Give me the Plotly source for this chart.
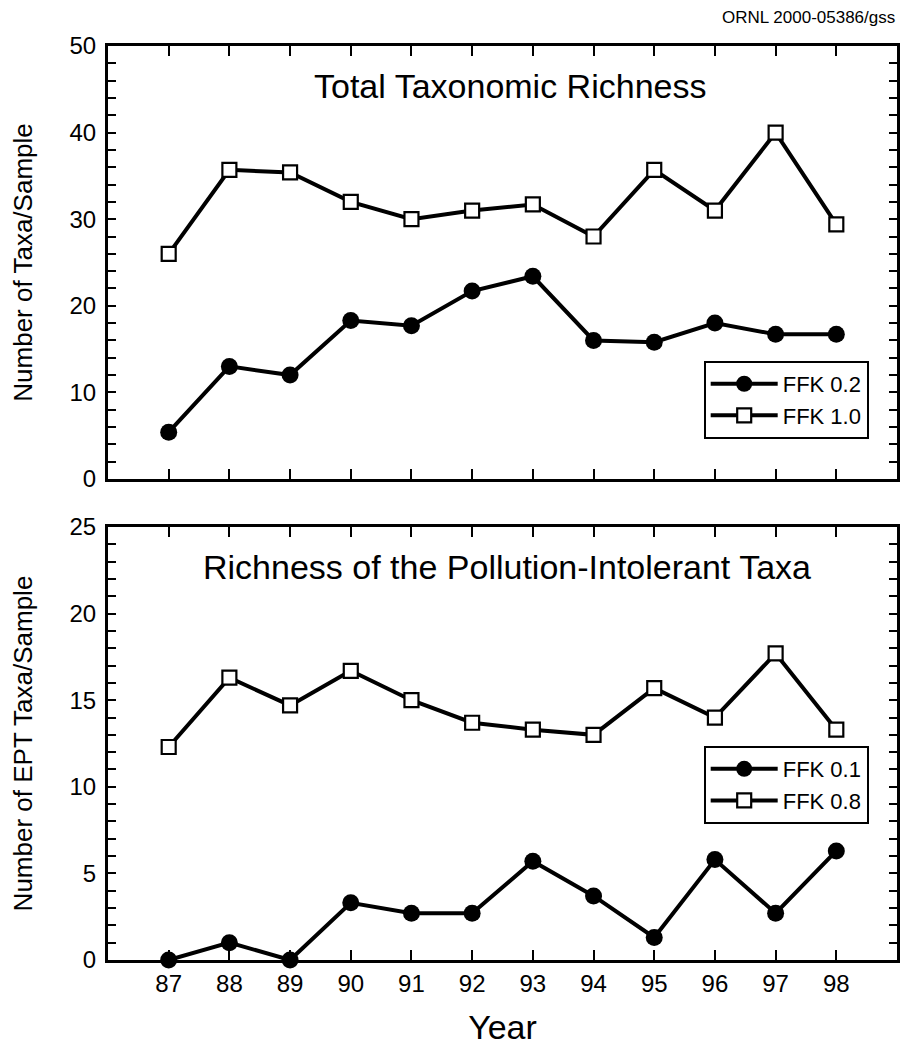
import plotly.graph_objects as go

# Sampling years (19xx)
years = [87, 88, 89, 90, 91, 92, 93, 94, 95, 96, 97, 98]
year_labels = ["87", "88", "89", "90", "91", "92", "93", "94", "95", "96", "97", "98"]

# Total taxonomic richness (taxa per sample)
total_ffk02 = [5.4, 13.0, 12.0, 18.3, 17.7, 21.7, 23.4, 16.0, 15.8, 18.0, 16.7, 16.7]
total_ffk10 = [26.0, 35.7, 35.4, 32.0, 30.0, 31.0, 31.7, 28.0, 35.7, 31.0, 40.0, 29.4]

# EPT (pollution-intolerant) taxa per sample
ept_ffk01 = [0.0, 1.0, 0.0, 3.3, 2.7, 2.7, 5.7, 3.7, 1.3, 5.8, 2.7, 6.3]
ept_ffk08 = [12.3, 16.3, 14.7, 16.7, 15.0, 13.7, 13.3, 13.0, 15.7, 14.0, 17.7, 13.3]

FONT = "Liberation Sans, Arial, Helvetica, sans-serif"

LINE_W = 4
filled = dict(symbol="circle", size=17, color="black", line=dict(color="black", width=0))
hollow = dict(symbol="square", size=14, color="white", line=dict(color="black", width=2.2))

fig = go.Figure()

fig.add_trace(go.Scatter(x=years, y=total_ffk02, name="FFK 0.2", mode="lines+markers",
                         line=dict(color="black", width=LINE_W), marker=filled,
                         xaxis="x", yaxis="y", legend="legend"))
fig.add_trace(go.Scatter(x=years, y=total_ffk10, name="FFK 1.0", mode="lines+markers",
                         line=dict(color="black", width=LINE_W), marker=hollow,
                         xaxis="x", yaxis="y", legend="legend"))
fig.add_trace(go.Scatter(x=years, y=ept_ffk01, name="FFK 0.1", mode="lines+markers",
                         line=dict(color="black", width=LINE_W), marker=filled,
                         xaxis="x2", yaxis="y2", legend="legend2", cliponaxis=False))
fig.add_trace(go.Scatter(x=years, y=ept_ffk08, name="FFK 0.8", mode="lines+markers",
                         line=dict(color="black", width=LINE_W), marker=hollow,
                         xaxis="x2", yaxis="y2", legend="legend2"))

axis_common = dict(
    showline=True, linecolor="black", linewidth=3, mirror="allticks",
    ticks="inside", tickcolor="black", tickwidth=2,
    showgrid=False, zeroline=False,
    tickfont=dict(family=FONT, size=24, color="black"),
)

x_common = dict(axis_common, range=[86, 99], tickmode="array", tickvals=years,
                ticktext=year_labels, ticklen=10)

top_dom = [0.5263, 1.0]
bot_dom = [0.0, 0.4737]

legend_common = dict(
    bgcolor="white", bordercolor="black", borderwidth=2,
    font=dict(family=FONT, size=22, color="black"),
    xanchor="left", yanchor="top", itemwidth=67, tracegroupgap=0,
)

y_title_font = dict(family=FONT, size=26, color="black")

fig.update_layout(
    width=903, height=1047,
    margin=dict(l=108, r=3, t=46, b=87),
    paper_bgcolor="white", plot_bgcolor="white",
    font=dict(family=FONT, color="black"),
    xaxis=dict(x_common, domain=[0, 1], anchor="y", showticklabels=False),
    yaxis=dict(axis_common, domain=top_dom, anchor="x", range=[0, 50], dtick=10, ticklen=8,
               ticklabelstandoff=4,
               minor=dict(dtick=2, ticks="inside", ticklen=8, tickwidth=2, tickcolor="black"),
               title=dict(text="Number of Taxa/Sample", font=y_title_font, standoff=30)),
    xaxis2=dict(x_common, domain=[0, 1], anchor="y2",
                title=dict(text="Year", font=dict(family=FONT, size=34, color="black"),
                           standoff=20)),
    yaxis2=dict(axis_common, domain=bot_dom, anchor="x2", range=[0, 25], dtick=5, ticklen=8,
                ticklabelstandoff=4,
                minor=dict(dtick=1, ticks="inside", ticklen=8, tickwidth=2, tickcolor="black"),
                title=dict(text="Number of EPT Taxa/Sample", font=y_title_font, standoff=30)),
    legend=dict(legend_common, x=0.755, y=0.6554),
    legend2=dict(legend_common, x=0.755, y=0.2341),
    annotations=[
        dict(text="Total Taxonomic Richness", xref="x domain", yref="y domain",
             x=0.51, y=0.907, showarrow=False, xanchor="center", yanchor="middle",
             font=dict(family=FONT, size=34, color="black")),
        dict(text="Richness of the Pollution-Intolerant Taxa", xref="x2 domain", yref="y2 domain",
             x=0.506, y=0.9076, showarrow=False, xanchor="center", yanchor="middle",
             font=dict(family=FONT, size=34, color="black")),
        dict(text="ORNL 2000-05386/gss", xref="paper", yref="paper",
             x=1.0, y=1.0, yshift=29, showarrow=False, xanchor="right", yanchor="middle",
             font=dict(family=FONT, size=17, color="black")),
    ],
    showlegend=True,
)

fig.write_html("out.html")
